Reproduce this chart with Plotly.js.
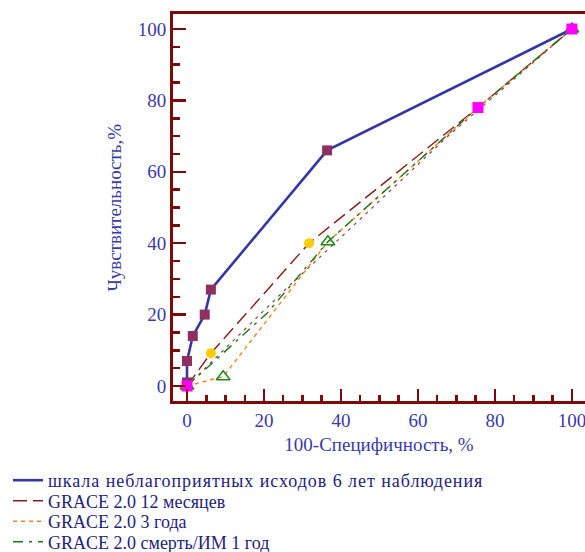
<!DOCTYPE html>
<html><head><meta charset="utf-8">
<script src="https://cdn.plot.ly/plotly-3.0.1.min.js"></script>
<style>
html,body{margin:0;padding:0;background:#fff}
.legendtext{letter-spacing:0.95px}
</style>
</head><body><div id="chart" style="width:585px;height:552px"></div>
<script>
// Scale of adverse outcomes (6 years follow-up)
const scaleX = [0, 0, 0, 1.5, 4.6, 6.2, 36.4, 100];
const scaleY = [0, 1, 7, 14, 20, 27, 66, 100];
// GRACE 2.0 12 months
const g12X = [0, 6.2, 31.7, 75.6, 100];
const g12Y = [0, 9.2, 40, 78, 100];
// GRACE 2.0 3 years
const g3X = [0, 9.4, 36.6, 75.6, 100];
const g3Y = [0, 2.6, 40.4, 78, 100];
// GRACE 2.0 death/MI 1 year
const gdX = [0, 20.8, 36.6, 75.6, 100];
const gdY = [0, 20.4, 40.4, 78, 100];
// lower dashed band line
const bandX = [0, 26, 36.4, 67.5, 100];
const bandY = [0, 27.5, 38, 69.7, 100];
// point markers
const circX = [6.2, 31.7];
const circY = [9.2, 40];
const triX = [0, 9.4, 36.6, 100];
const triY = [0, 2.6, 40.4, 100];
const endX = [0, 75.6, 100];
const endY = [0, 78, 100];
const names = ['шкала неблагоприятных исходов 6 лет наблюдения', 'GRACE 2.0 12 месяцев', 'GRACE 2.0 3 года', 'GRACE 2.0 смерть/ИМ 1 год'];
const xTitle = '100-Специфичность, %';
const yTitle = 'Чувствительность,%';
const xTicks = [0, 20, 40, 60, 80, 100];
const yTicks = [0, 20, 40, 60, 80, 100];

const blue = '#3535a5', dred = '#8b1a1a', axc = '#7d0a0a';
const serif = 'Liberation Serif, Times New Roman, serif';
const traces = [
  {x: bandX, y: bandY, mode: 'lines', line: {color: '#9b3a4a', width: 1.2, dash: '3px,5px'}, showlegend: false, hoverinfo: 'skip'},
  {x: g12X, y: g12Y, mode: 'lines', name: names[1], legend: 'legend2', line: {color: dred, width: 1.4, dash: '14px,6px'}},
  {x: g3X, y: g3Y, mode: 'lines', name: names[2], legend: 'legend3', line: {color: '#ff7f1f', width: 1.4, dash: '4px,4px'}},
  {x: gdX, y: gdY, mode: 'lines', name: names[3], legend: 'legend4', line: {color: '#1a7a1a', width: 1.4, dash: '10px,6px,3px,6px'}},
  {x: scaleX, y: scaleY, mode: 'lines', name: names[0], legend: 'legend', line: {color: blue, width: 2.6}},
  {x: scaleX, y: scaleY, mode: 'markers', showlegend: false, marker: {symbol: 'square', size: 10, color: '#8e2f5f'}},
  {x: circX, y: circY, mode: 'markers', showlegend: false, marker: {symbol: 'circle', size: 10, color: '#ffcc00'}},
  {x: triX, y: triY, mode: 'markers', showlegend: false, marker: {symbol: 'triangle-up-open', size: 12, color: '#1a8a1a', line: {width: 1.5}}},
  {x: endX, y: endY, mode: 'markers', showlegend: false, marker: {symbol: 'square', size: 11, color: '#ff00ff'}}
];
const tf = {family: serif, size: 19, color: '#3a3aa8'};
const lf = {family: serif, size: 18, color: '#23237a'};
function leg(cy) {
  return {xref: 'container', yref: 'container', x: 8 / 585, y: 1 - cy / 552, xanchor: 'left', yanchor: 'middle',
    bgcolor: 'rgba(0,0,0,0)', font: lf, itemwidth: 30};
}
const layout = {
  width: 585, height: 552,
  margin: {l: 173, r: 0, t: 14, b: 151, autoexpand: false},
  paper_bgcolor: '#fff', plot_bgcolor: '#fff',
  font: {family: serif},
  xaxis: {range: [-3.64, 103.4], tickvals: xTicks, showgrid: false, zeroline: false, automargin: false,
    showline: true, linecolor: axc, linewidth: 3, mirror: true, ticklabeloverflow: 'allow',
    ticks: 'inside', ticklen: 12, tickwidth: 2.5, tickcolor: axc,
    minor: {dtick: 5, ticks: 'inside', ticklen: 6, tickwidth: 2.5, tickcolor: axc},
    tickfont: tf, ticklabelstandoff: 0,
    title: {text: xTitle, font: {family: serif, size: 19, color: '#3a3aa8'}, standoff: 8}},
  yaxis: {range: [-4.2, 104.2], tickvals: yTicks, showgrid: false, zeroline: false, automargin: false,
    showline: true, linecolor: axc, linewidth: 3, ticklabeloverflow: 'allow',
    ticks: 'inside', ticklen: 13, tickwidth: 2.5, tickcolor: axc,
    minor: {dtick: 5, ticks: 'inside', ticklen: 7, tickwidth: 2.5, tickcolor: axc},
    tickfont: tf, ticklabelstandoff: 0},
  annotations: [{text: yTitle, xref: 'paper', yref: 'paper', x: (114 - 173) / 412, y: 0.5,
    xanchor: 'center', yanchor: 'middle', textangle: -90, showarrow: false,
    font: {family: serif, size: 19, color: '#3a3aa8'}}],
  legend: leg(480.5), legend2: leg(501), legend3: leg(521.5), legend4: leg(542),
  showlegend: true
};
Plotly.newPlot('chart', traces, layout, {displayModeBar: false, staticPlot: true});
</script></body></html>
